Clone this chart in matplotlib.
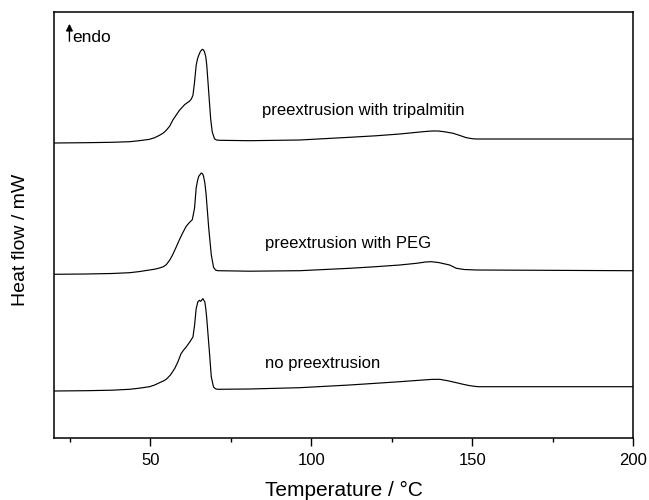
import matplotlib
matplotlib.use("Agg")
import matplotlib.pyplot as plt

plt.rcParams['font.family'] = ['Liberation Sans', 'DejaVu Sans']

# Temperature (°C) and heat flow (arbitrary, offset)
temp_tripalmitin = [20.0, 30.0, 38.0, 43.5, 46.5, 49.7, 51.3, 52.8, 54.0, 54.9, 56.0, 56.9,
                    58.0, 59.0, 60.6, 61.4, 62.1, 62.7, 63.2, 63.7, 64.2, 64.6, 65.0, 65.5,
                    66.1, 66.5, 66.8, 67.2, 67.5, 68.1, 68.7, 69.2, 69.9, 70.5, 71.5, 80.8,
                    96.4, 111.9, 120.0, 127.5, 134.7, 137.5, 139.4, 141.5, 144.1, 146.2, 148.2,
                    150.0, 151.3, 174.1, 200.0]
flow_tripalmitin = [29.50, 29.53, 29.57, 29.63, 29.73, 29.87, 30.03, 30.27, 30.50, 30.77, 31.20, 31.77,
                    32.30, 32.77, 33.33, 33.52, 33.67, 33.90, 34.27, 35.60, 37.27, 37.90, 38.27, 38.65,
                    38.87, 38.80, 38.60, 38.10, 37.27, 34.60, 31.93, 30.60, 29.93, 29.80, 29.77, 29.73,
                    29.80, 30.07, 30.22, 30.40, 30.63, 30.70, 30.70, 30.62, 30.47, 30.25, 30.03,
                    29.93, 29.90, 29.90, 29.90]

temp_peg = [20.0, 30.0, 38.0, 43.5, 46.5, 49.7, 51.3, 52.8, 54.0, 54.9, 56.0, 56.9,
            58.0, 59.0, 60.0, 61.1, 62.1, 63.0, 63.7, 64.2, 64.6, 65.0, 65.8, 66.2,
            66.5, 66.9, 67.3, 68.1, 68.9, 69.6, 70.2, 70.9, 80.8, 96.4, 111.9, 120.0,
            127.5, 132.7, 135.5, 137.3, 139.5, 143.0, 145.1, 147.5, 151.3, 199.0, 200.0]
flow_peg = [16.37, 16.40, 16.45, 16.53, 16.64, 16.80, 16.88, 17.00, 17.13, 17.33, 17.80, 18.33,
            19.10, 19.83, 20.50, 21.17, 21.55, 21.83, 23.00, 25.00, 25.70, 26.17, 26.50, 26.42,
            26.17, 25.50, 24.33, 21.00, 18.33, 17.07, 16.80, 16.73, 16.68, 16.73, 16.97, 17.13,
            17.30, 17.47, 17.60, 17.63, 17.55, 17.30, 16.97, 16.85, 16.80, 16.73, 16.73]

temp_none = [20.0, 30.0, 38.0, 43.5, 46.5, 49.7, 51.3, 52.8, 54.0, 54.9, 56.2, 57.5,
             58.5, 59.5, 60.3, 61.1, 62.2, 63.2, 63.7, 64.2, 64.7, 65.2, 65.6, 66.3,
             66.9, 67.2, 67.5, 68.4, 68.9, 69.6, 70.2, 70.9, 80.8, 96.4, 111.9, 120.0,
             127.5, 134.7, 137.5, 139.9, 142.5, 145.1, 147.2, 149.5, 151.8, 199.0, 200.0]
flow_none = [4.70, 4.73, 4.78, 4.87, 4.98, 5.13, 5.30, 5.53, 5.70, 5.87, 6.30, 6.93,
             7.60, 8.43, 8.80, 9.10, 9.60, 10.10, 11.27, 12.93, 13.60, 13.77, 13.67, 13.93,
             13.60, 12.90, 11.93, 8.27, 6.10, 5.10, 4.92, 4.87, 4.90, 5.03, 5.30, 5.47,
             5.63, 5.80, 5.86, 5.87, 5.72, 5.53, 5.37, 5.22, 5.13, 5.13, 5.13]

labels = ["preextrusion with tripalmitin", "preextrusion with PEG", "no preextrusion"]
label_pos = [(84.8, 32.8), (85.5, 19.47), (85.5, 7.47)]

major_ticks = [50, 100, 150, 200]
minor_ticks = [25, 75, 125, 175]

fig = plt.figure(figsize=(6.49, 5.00), dpi=100)
ax = fig.add_axes([0.0832, 0.124, 0.9753 - 0.0832, 0.976 - 0.124])

for t, f in [(temp_tripalmitin, flow_tripalmitin), (temp_peg, flow_peg), (temp_none, flow_none)]:
    ax.plot(t, f, color='black', lw=0.85)

for lab, (x, y) in zip(labels, label_pos):
    ax.text(x, y, lab, fontsize=12, ha='left', va='center')

ax.annotate('', xy=(24.8, 41.7), xytext=(24.8, 39.4),
            arrowprops=dict(arrowstyle='-|>', lw=1.0, color='black', mutation_scale=10))
ax.text(25.6, 39.55, 'endo', fontsize=12.5, ha='left', va='baseline')

ax.set_xlim(20, 200)
ax.set_ylim(0, 42.6)
ax.set_xticks(major_ticks)
ax.set_xticks(minor_ticks, minor=True)
ax.tick_params(axis='x', which='major', direction='out', length=6, width=1.0, labelsize=12, pad=5)
ax.tick_params(axis='x', which='minor', direction='out', length=3, width=1.0)
ax.set_yticks([])
for s in ax.spines.values():
    s.set_linewidth(1.1)

ax.set_xlabel('Temperature / \u00b0C', fontsize=15, labelpad=9)
ax.set_ylabel('Heat flow / mW', fontsize=14, va='center')
ax.yaxis.set_label_coords(-0.058, 0.465)

fig.savefig('out.png', dpi=100)
